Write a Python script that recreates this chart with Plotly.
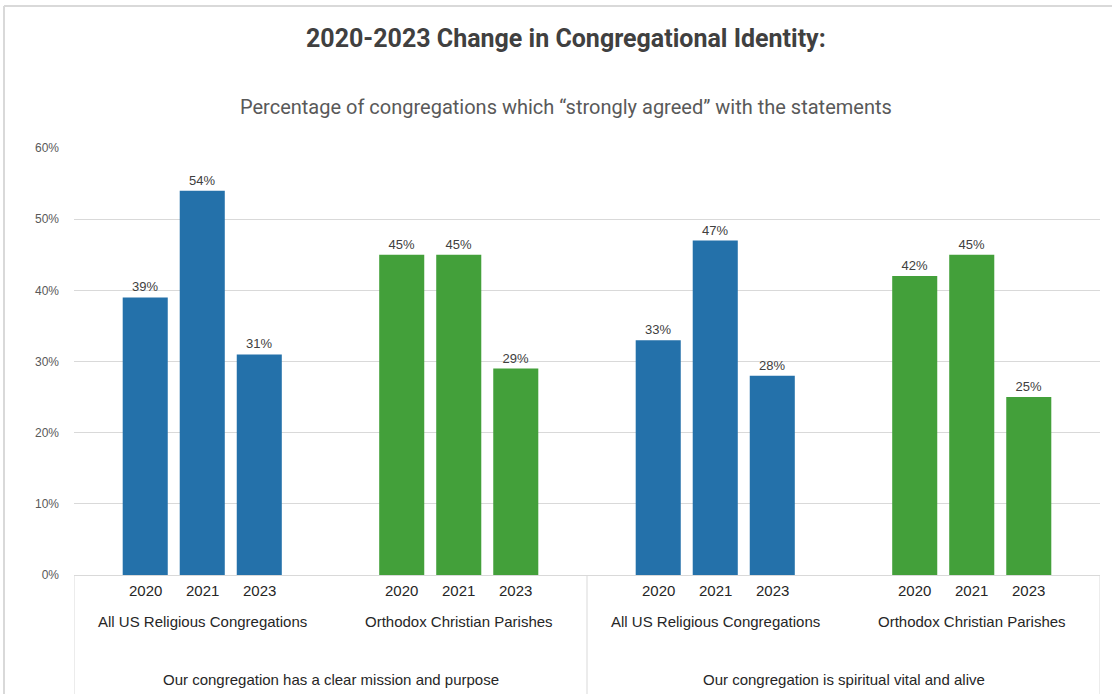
import plotly.graph_objects as go

# Chart data
years = ["2020", "2021", "2023"]
groups = ["All US Religious Congregations", "Orthodox Christian Parishes",
          "All US Religious Congregations", "Orthodox Christian Parishes"]
statements = ["Our congregation has a clear mission and purpose",
              "Our congregation is spiritual vital and alive"]
# values per year, one entry per group (in order above)
values_2020 = [0.39, 0.45, 0.33, 0.42]
values_2021 = [0.54, 0.45, 0.47, 0.45]
values_2023 = [0.31, 0.29, 0.28, 0.25]
y_ticks = [0, 0.1, 0.2, 0.3, 0.4, 0.5, 0.6]

BLUE = "#2471aa"
GREEN = "#43a03a"
group_colors = [BLUE, GREEN, BLUE, GREEN]

W, H = 1112, 694
ML, MR, MT, MB = 74, 12, 148, 119
PW, PH = W - ML - MR, H - MT - MB
BARGAP = 0.333
BARGROUPGAP = 0.21

FONT = "Liberation Sans"
TXT = "#404040"
LABEL = "#262626"


def py(pix):
    """Convert a pixel row of the figure to paper y."""
    return (H - MB - pix) / PH


def px(pix):
    """Convert a pixel column of the figure to paper x."""
    return (pix - ML) / PW


fig = go.Figure()
gx = list(range(len(groups)))
for yr, vals in zip(years, [values_2020, values_2021, values_2023]):
    fig.add_trace(go.Bar(
        x=gx, y=vals, name=yr,
        marker=dict(color=group_colors, line=dict(width=0)),
        texttemplate="%{y:.0%}", textposition="outside",
        textfont=dict(family=FONT, size=13, color=TXT),
        cliponaxis=False, showlegend=False,
    ))

annotations = []
slot = (1 - BARGAP) / len(years)
for g in gx:
    for k, yr in enumerate(years):
        annotations.append(dict(
            x=g + (k - 1) * slot, y=py(H - MB + 15), xref="x", yref="paper",
            text=yr, showarrow=False, yanchor="middle",
            font=dict(family=FONT, size=15, color=LABEL)))
    annotations.append(dict(
        x=g, y=py(H - MB + 46), xref="x", yref="paper", text=groups[g],
        showarrow=False, yanchor="middle",
        font=dict(family=FONT, size=15, color=LABEL)))
for s, txt in enumerate(statements):
    annotations.append(dict(
        x=2 * s + 0.5, y=py(H - MB + 104), xref="x", yref="paper", text=txt,
        showarrow=False, yanchor="middle",
        font=dict(family=FONT, size=15, color=LABEL)))

# titles
annotations.append(dict(
    x=px(566), y=py(39), xref="paper", yref="paper",
    text="<b>2020-2023 Change in Congregational Identity:</b>", showarrow=False,
    yanchor="middle", font=dict(family="Roboto", size=25, color="#404040")))
annotations.append(dict(
    x=px(566), y=py(107), xref="paper", yref="paper",
    text="Percentage of congregations which \u201cstrongly agreed\u201d with the statements",
    showarrow=False, yanchor="middle",
    font=dict(family="Roboto", size=20, color="#595959")))

shapes = []
# category dividers beneath the axis
for xv in [-0.5, 1.5, 3.5]:
    shapes.append(dict(type="line", xref="x", yref="paper", x0=xv, x1=xv,
                       y0=0, y1=py(H + 5), line=dict(color="#d9d9d9", width=1)))
# chart frame
shapes.append(dict(type="line", xref="paper", yref="paper",
                   x0=px(4), x1=px(W + 10), y0=py(6), y1=py(6),
                   line=dict(color="#d9d9d9", width=2)))
shapes.append(dict(type="line", xref="paper", yref="paper",
                   x0=px(4), x1=px(4), y0=py(6), y1=py(H + 5),
                   line=dict(color="#d9d9d9", width=2)))

fig.update_layout(
    width=W, height=H,
    margin=dict(l=ML, r=MR, t=MT, b=MB, pad=0),
    paper_bgcolor="white", plot_bgcolor="white",
    barmode="group", bargap=BARGAP, bargroupgap=BARGROUPGAP,
    annotations=annotations, shapes=shapes,
    xaxis=dict(range=[-0.5, 3.5], showticklabels=False, showgrid=False,
               zeroline=False, showline=True, linecolor="#d9d9d9", linewidth=1,
               ticks=""),
    yaxis=dict(range=[0, 0.6], tickvals=y_ticks, tickformat=".0%",
               showgrid=True, gridcolor="#d9d9d9", gridwidth=1,
               zeroline=False, showline=False, ticks="", ticklabelstandoff=14,
               tickfont=dict(family=FONT, size=12, color="#595959")),
)

fig.write_html("out.html")
